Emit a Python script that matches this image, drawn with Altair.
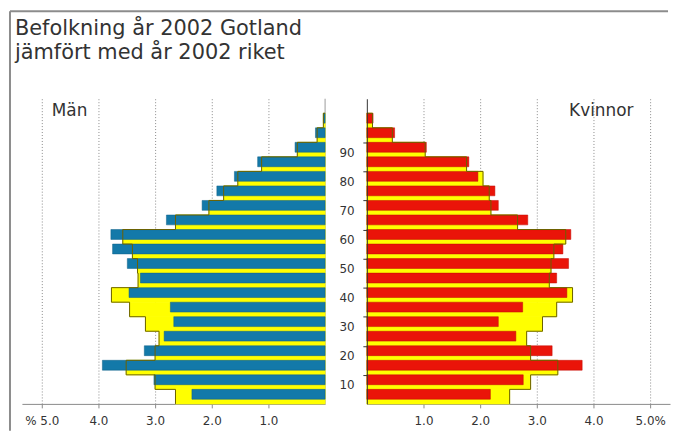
import altair as alt
import pandas as pd

# ---------------- data ----------------
age_start = [0, 5, 10, 15, 20, 25, 30, 35, 40, 45, 50, 55, 60, 65, 70, 75, 80, 85, 90, 95]
age_group = ["0-4", "5-9", "10-14", "15-19", "20-24", "25-29", "30-34", "35-39", "40-44", "45-49",
             "50-54", "55-59", "60-64", "65-69", "70-74", "75-79", "80-84", "85-89", "90-94", "95-99"]
gotland_men = [2.35, 3.02, 3.93, 3.19, 2.84, 2.67, 2.73, 3.46, 3.26, 3.49,
               3.75, 3.78, 2.80, 2.17, 1.91, 1.60, 1.19, 0.53, 0.17, 0.03]
riket_men = [2.64, 3.00, 3.51, 3.00, 2.93, 3.17, 3.45, 3.77, 3.30, 3.31,
             3.40, 3.57, 2.64, 2.05, 1.79, 1.54, 1.12, 0.49, 0.14, 0.03]
gotland_women = [2.18, 2.76, 3.80, 3.27, 2.63, 2.32, 2.75, 3.53, 3.35, 3.56,
                 3.46, 3.60, 2.84, 2.32, 2.26, 1.96, 1.80, 1.05, 0.49, 0.11]
riket_women = [2.52, 2.89, 3.37, 2.89, 2.82, 3.10, 3.35, 3.63, 3.22, 3.25,
               3.30, 3.51, 2.66, 2.19, 2.16, 2.05, 1.76, 1.03, 0.45, 0.10]
pct_ticks = [1, 2, 3, 4, 5]
age_ticks = [10, 20, 30, 40, 50, 60, 70, 80, 90]
title_lines = ["Befolkning år 2002 Gotland", "jämfört med år 2002 riket"]
men_label = "Män"
women_label = "Kvinnor"

# ---------------- style ----------------
FONT = "DejaVu Sans"
W, H, GAP = 305, 307, 42
XMAX, YMAX = 5.35, 105
BIN = 5
BAR_LOW = 1.6          # Gotland bar starts this far above the bin start
BLUE, BLUE_EDGE = "#1379a9", "#0e5f86"
RED, RED_EDGE = "#ea1409", "#c00a05"
YELLOW = "#ffff00"
OUTLINE = "#6b6200"
GRID = "#8a8a8a"
AXIS = "#8a8a8a"
TEXT = "#333333"
FRAME = "#8c8c8c"

# page geometry used only for the decorative frame
MEN_LEFT, TOP = 22, 98
WOMEN_LEFT = MEN_LEFT + W + GAP


def make_panel(gotland, riket, bar_color, bar_edge, reverse, label_expr, women):
    df = pd.DataFrame({"age": age_start, "group": age_group, "gotland": gotland, "riket": riket})
    outline = pd.DataFrame({"age": age_start + [age_start[-1] + BIN], "riket": riket + [0]})
    xs = alt.Scale(domain=[0, XMAX], reverse=reverse, nice=False)
    ys = alt.Scale(domain=[0, YMAX], nice=False)
    xaxis = alt.Axis(values=pct_ticks, title=None, grid=True, gridDash=[1, 2], gridColor=GRID,
                     domainColor=AXIS, tickColor=AXIS, tickSize=4, labelExpr=label_expr,
                     labelFont=FONT, labelFontSize=12, labelColor=TEXT, labelPadding=8)
    if women:
        yaxis = alt.Axis(values=age_ticks, title=None, orient="left", grid=False,
                         domainColor="#333333", tickColor="#333333", tickSize=4,
                         labelAlign="center", labelBaseline="middle", labelPadding=16.5,
                         labelOffset=10, labelFont=FONT, labelFontSize=12, labelColor=TEXT,
                         format="d", zindex=1)
    else:
        yaxis = None

    def X(field):
        return alt.X(field, scale=xs, axis=xaxis)

    def Y(field):
        return alt.Y(field, scale=ys, axis=yaxis)

    base = alt.Chart(df)
    fill = base.transform_calculate(lo="datum.age", hi=f"datum.age + {BIN}").mark_rect(
        color=YELLOW, stroke=YELLOW, strokeWidth=0.8
    ).encode(x=X("riket:Q"), x2=alt.datum(0), y=Y("lo:Q"), y2="hi:Q")
    bars = base.transform_calculate(lo=f"datum.age + {BAR_LOW}", hi=f"datum.age + {BIN}").mark_rect(
        color=bar_color, stroke=bar_edge, strokeWidth=0.5
    ).encode(x=X("gotland:Q"), x2=alt.datum(0), y=Y("lo:Q"), y2="hi:Q")
    line = alt.Chart(outline).mark_line(interpolate="step-before", color=OUTLINE, strokeWidth=1).encode(
        x=X("riket:Q"), y=Y("age:Q"), order="age:Q")
    layers = []
    if not women:
        zero = alt.Chart(pd.DataFrame({"zero": [0]})).mark_rule(color="#9a9a9a", strokeWidth=1).encode(
            x=X("zero:Q"))
        layers.append(zero)
    layers += [fill, bars, line]
    return layers


men_layers = make_panel(gotland_men, riket_men, BLUE, BLUE_EDGE, True,
                        "datum.value == 5 ? '% 5.0' : format(datum.value, '.1f')", False)
women_layers = make_panel(gotland_women, riket_women, RED, RED_EDGE, False,
                          "datum.value == 5 ? '5.0%' : format(datum.value, '.1f')", True)

men_text = alt.Chart(pd.DataFrame({"t": [men_label]})).mark_text(
    align="left", baseline="alphabetic", font=FONT, fontSize=17, color=TEXT
).encode(text="t:N", x=alt.value(30), y=alt.value(17))
women_text = alt.Chart(pd.DataFrame({"t": [women_label]})).mark_text(
    align="left", baseline="alphabetic", font=FONT, fontSize=17, color=TEXT
).encode(text="t:N", x=alt.value(203.5), y=alt.value(17))

frame_df = pd.DataFrame({"k": [0]})
frame_left = alt.Chart(frame_df).mark_rule(color=FRAME, strokeWidth=2).encode(
    x=alt.value(10 - WOMEN_LEFT), y=alt.value(10 - TOP), y2=alt.value(432 - TOP))
frame_top = alt.Chart(frame_df).mark_rule(color=FRAME, strokeWidth=2).encode(
    x=alt.value(10 - WOMEN_LEFT), x2=alt.value(672 - WOMEN_LEFT), y=alt.value(10 - TOP))

men = alt.layer(*men_layers, men_text).properties(
    width=W, height=H,
    title=alt.TitleParams(text=title_lines, anchor="start", frame="group", dx=-7, offset=35,
                          font=FONT, fontSize=21, fontWeight="normal", color=TEXT, lineHeight=24.5),
)
women = alt.layer(*women_layers, women_text, frame_left, frame_top).properties(width=W, height=H)

chart = alt.hconcat(men, women, spacing=GAP, bounds="flush").properties(
    padding={"left": 1, "top": 1, "right": 1, "bottom": 1}
).configure_view(stroke=None)

chart.save("out.html", embed_options={"renderer": "svg", "actions": False})
